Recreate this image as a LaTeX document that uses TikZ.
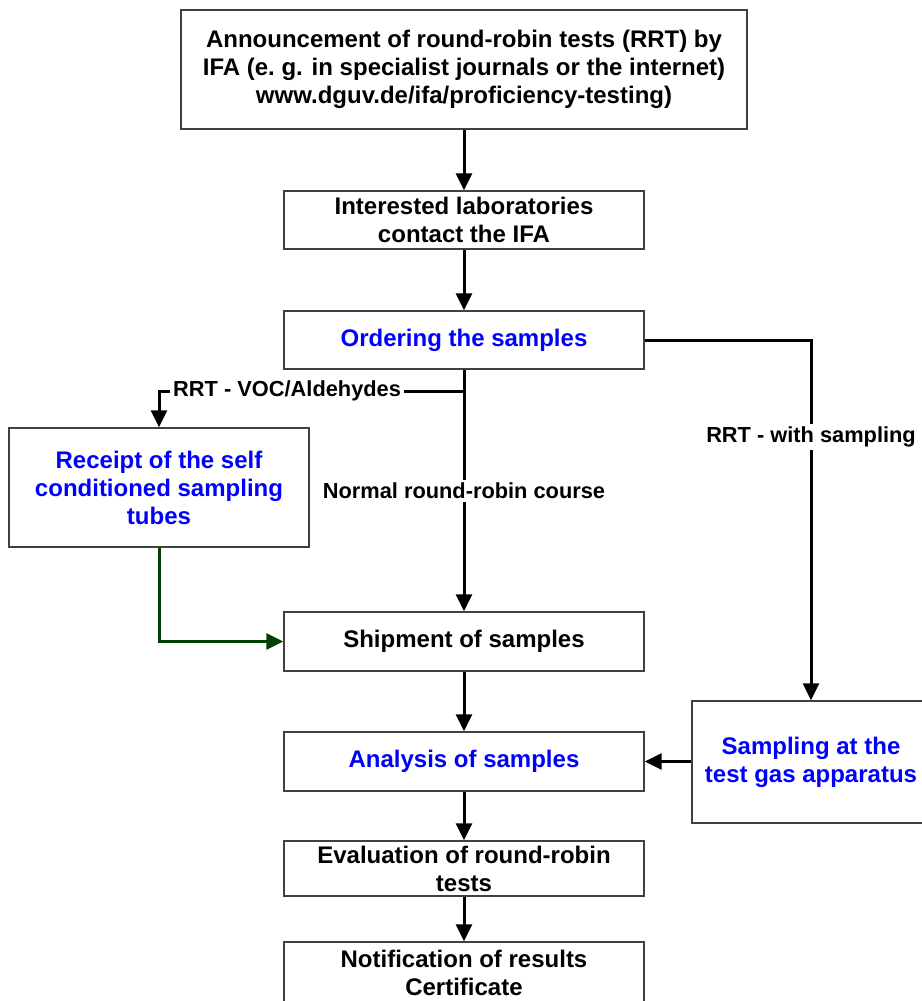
\documentclass[tikz,border=0pt]{standalone}
\usepackage{fontspec}
\setmainfont{Liberation Sans}
\usetikzlibrary{arrows.meta}

\definecolor{ifablue}{RGB}{0,0,255}
\definecolor{ifagreen}{RGB}{0,64,0}

\tikzset{
    box/.style={draw=black!75, line width=1.4pt, fill=white, align=center,
        font=\fontsize{24}{28}\selectfont\bfseries, inner sep=2pt},
    bluebox/.style={box, text=ifablue},
    flow/.style={line width=3pt, -{Triangle[length=17pt,width=16pt]}},
    flowlabel/.style={fill=white, inner sep=3pt, font=\fontsize{21.8}{24}\selectfont\bfseries}
}

\begin{document}
\begin{tikzpicture}[x=1pt, y=-1pt]
    \useasboundingbox (0,0) rectangle (921,1001);

    \node[box, minimum width=566pt, minimum height=119pt] (announce) at (464,69.5)
        {Announcement of round-robin tests (RRT) by\\IFA (e.~g. in specialist journals or the internet)\\www.dguv.de/ifa/proficiency-testing)};
    \node[box, minimum width=360pt, minimum height=58pt] (contact) at (464,220)
        {Interested laboratories\\contact the IFA};
    \node[bluebox, minimum width=360pt, minimum height=58pt] (order) at (464,340)
        {Ordering the samples};
    \node[bluebox, minimum width=300pt, minimum height=119pt] (receipt) at (159,487.5)
        {Receipt of the self\\conditioned sampling\\tubes};
    \node[box, minimum width=360pt, minimum height=59pt] (shipment) at (464,641.5)
        {Shipment of samples};
    \node[bluebox, minimum width=360pt, minimum height=59pt] (analysis) at (464,761.5)
        {Analysis of samples};
    \node[bluebox, minimum width=238pt, minimum height=122pt] (sampling) at (811,762)
        {Sampling at the\\test gas apparatus};
    \node[box, minimum width=360pt, minimum height=55pt] (evaluate) at (464,868.5)
        {Evaluation of round-robin\\tests};
    \node[box, minimum width=360pt, minimum height=62pt] (notify) at (464,973)
        {Notification of results\\Certificate};

    \coordinate (vocsplit) at (464,391);

    \draw[flow] (announce) -- (contact);
    \draw[flow] (contact) -- (order);
    \draw[flow] (order) -- node[flowlabel] {Normal round-robin course} (shipment);
    \draw[flow] (vocsplit) -| node[flowlabel, pos=0.29] {RRT - VOC/Aldehydes} (receipt.north);
    \draw[flow] (order.east) -| node[flowlabel, pos=0.635] {RRT - with sampling} (sampling.north);
    \draw[flow, ifagreen] (receipt.south) |- (shipment.west);
    \draw[flow] (shipment) -- (analysis);
    \draw[flow] (sampling.west |- analysis.east) -- (analysis.east);
    \draw[flow] (analysis) -- (evaluate);
    \draw[flow] (evaluate) -- (notify);
\end{tikzpicture}
\end{document}
